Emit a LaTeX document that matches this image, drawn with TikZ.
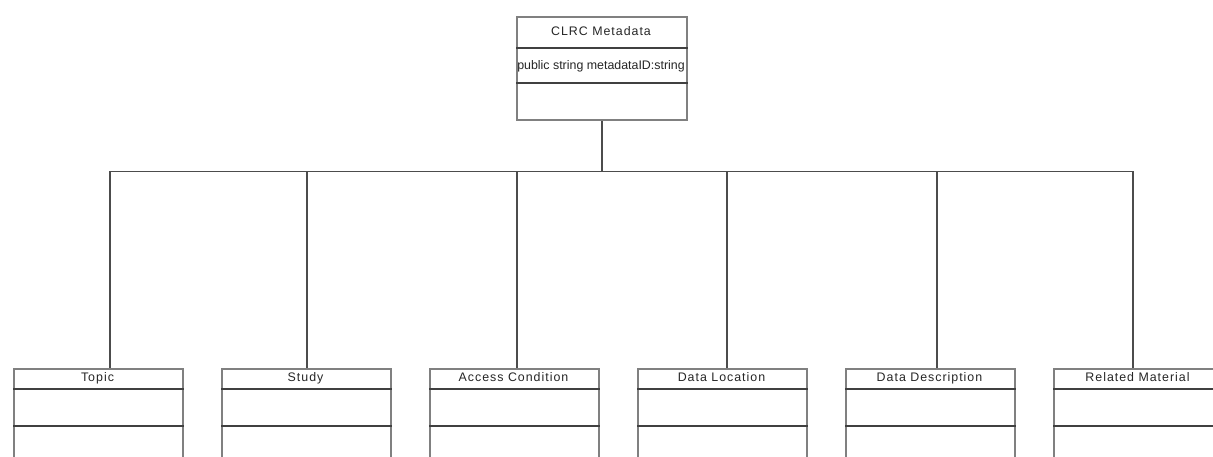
\documentclass[tikz,border=0pt]{standalone}
\usepackage{fontspec}
\setmainfont{Liberation Sans}
\newfontfamily\lblfont[LetterSpace=8]{Liberation Sans}
\begin{document}
\begin{tikzpicture}[x=1pt,y=-1pt,
  classbox/.style={draw=black!50, line width=1.8pt, inner sep=0pt, minimum width=169pt, fill=none},
  divider/.style={draw=black!75, line width=1.3pt},
  conn/.style={draw=black!70, line width=1.3pt},
  txt/.style={inner sep=0pt, text height=9pt, text depth=2.6pt, text=black!85, font=\fontsize{12.4}{14}\selectfont},
  lbl/.style={txt, font=\lblfont\fontsize{12.4}{14}\selectfont}]
\useasboundingbox[fill=white] (0,0) rectangle (1213,456);
% top class
\node[classbox, anchor=north west, minimum width=170pt, minimum height=103pt] (meta) at (516,16) {};
\node[lbl] (metaT) at (601,32.5) {CLRC Metadata};
\node[txt] (metaA) at (601,66) {public string metadataID:string};
\draw[divider] (meta.west |- 0,48) -- (meta.east |- 0,48);
\draw[divider] (meta.west |- 0,83) -- (meta.east |- 0,83);
\draw[conn] (meta.south) -- ++(0,51) coordinate (bus);
% bottom classes
\foreach \i/\n/\t/\cx in {0/topic/Topic/110,1/study/Study/307,2/access/Access Condition/517,3/location/Data Location/727,4/descr/Data Description/937,5/related/Related Material/1133}{
  \pgfmathsetmacro\xl{13+208*\i}
  \pgfmathsetmacro\xc{13+208*\i+84.5}
  \node[classbox, anchor=north west, minimum height=110pt] (\n) at (\xl,368) {};
  \node[lbl] (\n T) at (\xc,378.5) {\t};
  \draw[divider] (\n.west |- 0,389) -- (\n.east |- 0,389);
  \draw[divider] (\n.west |- 0,426) -- (\n.east |- 0,426);
  \coordinate (\n top) at (\cx,368);
  \draw[conn] (bus) -| (\n top);
}
\end{tikzpicture}
\end{document}
